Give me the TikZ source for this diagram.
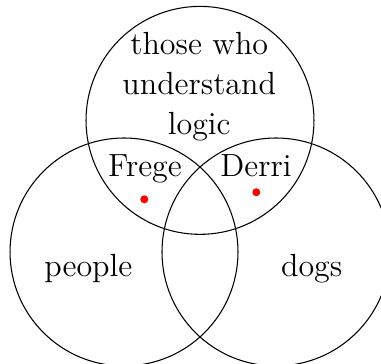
\documentclass[tikz,border=0pt]{standalone}
\usepackage{tikz}
\usetikzlibrary{positioning, calc}

\begin{document}
\begin{tikzpicture}[
        setcircle/.style={circle, draw=black, line width=0.4pt, minimum size=3cm, inner sep=0pt},
        setlabel/.style={font=\large, inner sep=0pt},
        member/.style={circle, fill=red, minimum size=3pt, inner sep=0pt}
    ]
        \useasboundingbox (-1.632, -1.474) rectangle (3.382, 3.316);
        \node[setcircle] (people) at (0, 0) {};
        \node[setcircle] (dogs) at (2, 0) {};
        \node[setcircle] (logic) at (1, 1.732) {};
        \node[setlabel, font={\fontsize{12}{15}\selectfont}, align=center] (logiclabel) at (0.99, 2.17) {those who\\understand\\logic};
        \node[setlabel, anchor=base] (peoplelabel) at (-0.47, -0.325) {people};
        \node[setlabel, anchor=base] (dogslabel) at (2.47, -0.325) {dogs};
        \node[setlabel, anchor=base] (frege) at (0.276, 0.991) {Frege};
        \node[setlabel, anchor=base] (derri) at (1.737, 0.991) {Derri};
        \node[member] (fregedot) at (0.267, 0.693) {};
        \node[member] (derridot) at (1.741, 0.786) {};
    \end{tikzpicture}
\end{document}
